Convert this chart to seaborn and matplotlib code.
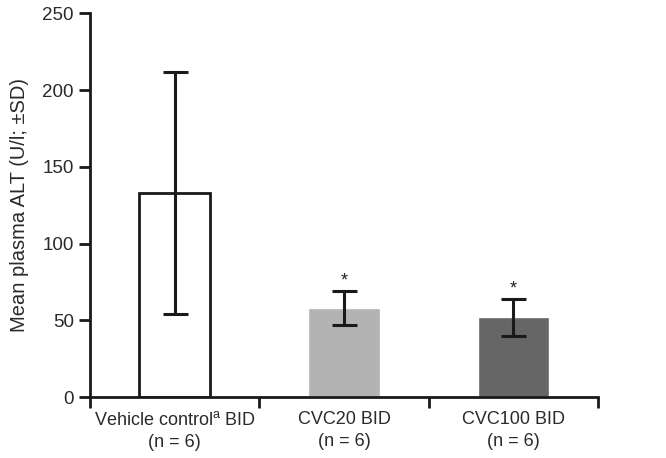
import numpy as np
import pandas as pd
import matplotlib
matplotlib.use("Agg")
import matplotlib.pyplot as plt
import seaborn as sns

# values
groups = ["Vehicle control$^{\\mathrm{a}}$ BID\n(n = 6)", "CVC20 BID\n(n = 6)", "CVC100 BID\n(n = 6)"]
mean_alt = [133, 58, 52]
sd_alt = [79, 11, 12]
signif = ["", "*", "*"]
bar_colors = ["white", "#b3b3b3", "#666666"]

df = pd.DataFrame({"group": groups, "alt": mean_alt})

sns.set_style("ticks")
plt.rcParams["font.family"] = ["Liberation Sans", "DejaVu Sans"]
plt.rcParams["mathtext.fontset"] = "custom"
plt.rcParams["mathtext.rm"] = "Liberation Sans"

fig = plt.figure(figsize=(6.66, 4.58), dpi=100)
ax = fig.add_axes([0.135, 0.133, 0.763, 0.838])

sns.barplot(data=df, x="group", y="alt", hue="group", palette=bar_colors,
            width=0.42, legend=False, ax=ax, saturation=1)
# vehicle bar: outlined only
ax.patches[0].set_edgecolor("#1a1a1a")
ax.patches[0].set_linewidth(2)

x = np.arange(len(groups))
ax.errorbar(x, mean_alt, yerr=sd_alt, fmt="none", ecolor="#1a1a1a",
            elinewidth=2.2, capsize=9, capthick=2.2)
for xi, m, s, t in zip(x, mean_alt, sd_alt, signif):
    ax.text(xi, m + s + 1, t, ha="center", va="bottom", fontsize=13, color="#222222")

ax.set_xlim(-0.5, 2.5)
ax.set_ylim(0, 250)
ax.set_yticks([0, 50, 100, 150, 200, 250])
ax.set_xticks([-0.5, 0.5, 1.5, 2.5])
ax.set_xticklabels([])
ax.set_xticks(x, minor=True)
ax.set_xticklabels(groups, minor=True, linespacing=1.35)
ax.tick_params(axis="x", which="minor", length=0, pad=10, labelsize=13, labelcolor="#2a2a2a")
ax.tick_params(axis="both", which="major", length=8, width=2, color="#1a1a1a",
               labelsize=13.5, labelcolor="#2a2a2a", direction="out")
ax.set_xlabel("")
ax.set_ylabel("Mean plasma ALT (U/l; \u00b1SD)", fontsize=14.5, color="#2a2a2a", labelpad=10)

sns.despine(ax=ax)
for side in ["left", "bottom"]:
    ax.spines[side].set_linewidth(2)
    ax.spines[side].set_color("#1a1a1a")

fig.savefig("out.png", dpi=100)
